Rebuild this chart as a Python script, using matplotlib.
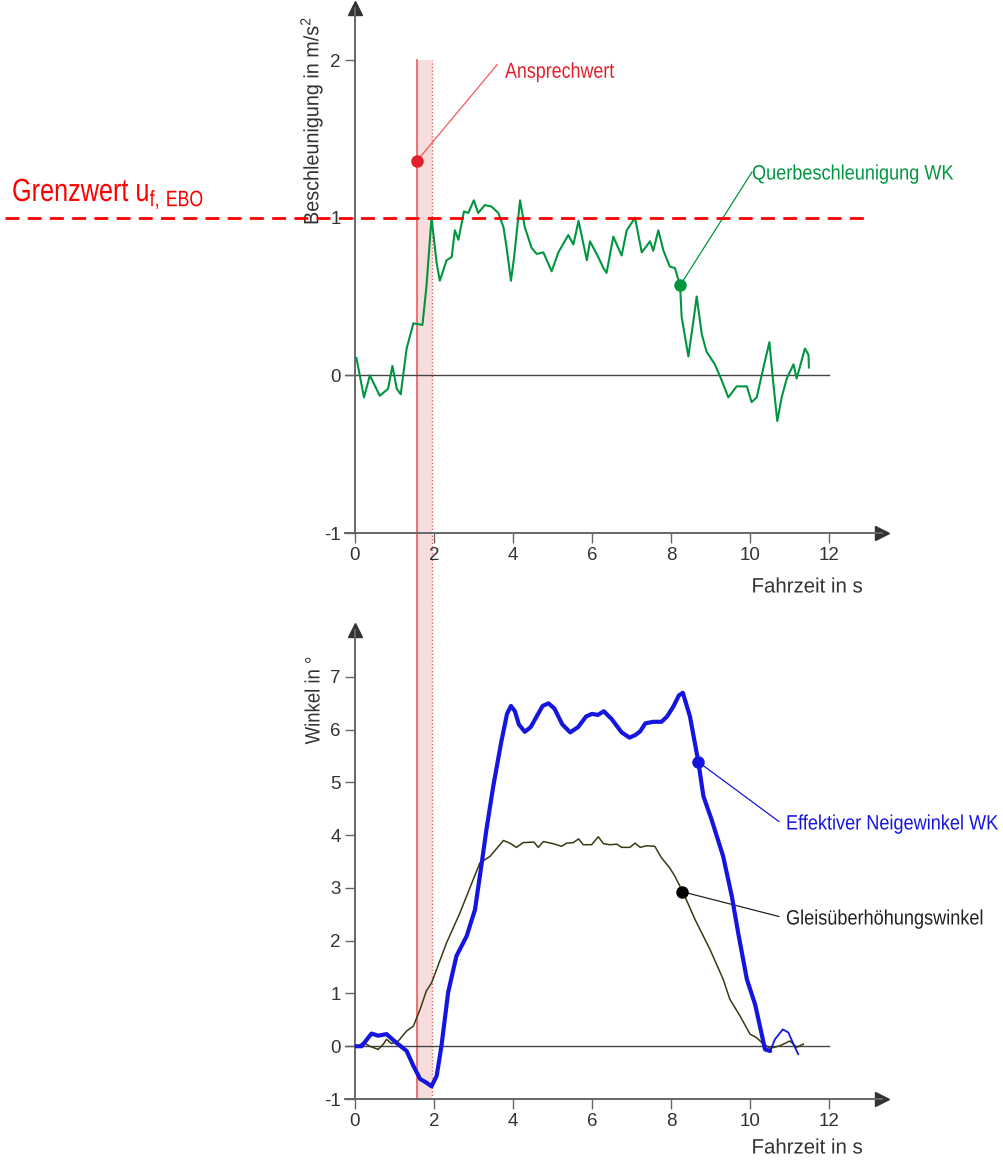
import matplotlib
matplotlib.use("Agg")
import matplotlib.pyplot as plt
import matplotlib.transforms as mtransforms
from matplotlib.patches import Rectangle, PathPatch
from matplotlib.lines import Line2D
from matplotlib.textpath import TextPath
from matplotlib.font_manager import FontProperties

plt.rcParams['font.family'] = ['Liberation Sans', 'DejaVu Sans']
plt.rcParams['mathtext.fontset'] = 'custom'
plt.rcParams['mathtext.rm'] = 'Liberation Sans'
plt.rcParams['axes.unicode_minus'] = False

# --- data ---
# lateral acceleration, m/s^2
acc_t = [0.04, 0.23, 0.38, 0.63, 0.84, 0.95, 1.06, 1.16, 1.31, 1.48, 1.71, 1.81,
         1.94, 2.07, 2.15, 2.32, 2.45, 2.53, 2.62, 2.76, 2.87, 3.01, 3.12, 3.29,
         3.46, 3.63, 3.76, 3.84, 3.95, 4.03, 4.18, 4.30, 4.47, 4.60, 4.77, 4.98,
         5.15, 5.40, 5.53, 5.66, 5.87, 5.95, 6.16, 6.29, 6.37, 6.54, 6.75, 6.88,
         7.09, 7.26, 7.47, 7.55, 7.68, 7.81, 7.97, 8.10, 8.23, 8.27, 8.44, 8.57,
         8.65, 8.78, 8.90, 9.11, 9.28, 9.45, 9.66, 9.92, 10.04, 10.17, 10.34, 10.49,
         10.59, 10.69, 10.80, 10.93, 11.10, 11.18, 11.39, 11.48, 11.49]
acc_a = [0.11, -0.14, 0.0, -0.13, -0.085, 0.06, -0.085, -0.12, 0.17, 0.33, 0.32, 0.56,
         1.0, 0.71, 0.60, 0.73, 0.75, 0.92, 0.86, 1.04, 1.03, 1.11, 1.03, 1.08,
         1.07, 1.03, 0.94, 0.81, 0.60, 0.75, 1.11, 0.94, 0.81, 0.77, 0.78, 0.66,
         0.78, 0.89, 0.83, 0.98, 0.73, 0.85, 0.75, 0.68, 0.65, 0.88, 0.76, 0.92,
         1.0, 0.78, 0.85, 0.79, 0.92, 0.79, 0.69, 0.68, 0.57, 0.37, 0.12, 0.35,
         0.50, 0.26, 0.15, 0.07, -0.03, -0.14, -0.07, -0.07, -0.17, -0.14, 0.05, 0.21,
         -0.05, -0.29, -0.14, -0.02, 0.07, -0.02, 0.17, 0.13, 0.05]

# effective tilt angle (thick part, then thin tail)
tilt_t = [0.04, 0.17, 0.42, 0.59, 0.80, 1.06, 1.31, 1.48, 1.65, 1.81, 1.94, 2.07,
          2.19, 2.36, 2.57, 2.83, 3.04, 3.21, 3.33, 3.50, 3.70, 3.85, 3.95, 4.05,
          4.15, 4.30, 4.45, 4.60, 4.75, 4.90, 5.05, 5.25, 5.45, 5.65, 5.85, 6.00,
          6.15, 6.30, 6.50, 6.75, 6.95, 7.10, 7.22, 7.35, 7.55, 7.76, 7.90, 8.06,
          8.20, 8.30, 8.48, 8.69, 8.82, 9.03, 9.32, 9.54, 9.70, 9.92, 10.13, 10.38,
          10.51]
tilt_w = [0.0, 0.0, 0.24, 0.20, 0.23, 0.06, -0.09, -0.37, -0.62, -0.69, -0.76, -0.56,
          0.0, 1.02, 1.71, 2.09, 2.59, 3.47, 4.11, 4.92, 5.75, 6.30, 6.45, 6.35,
          6.10, 5.96, 6.05, 6.25, 6.45, 6.50, 6.40, 6.10, 5.95, 6.05, 6.25, 6.30,
          6.28, 6.35, 6.20, 5.95, 5.85, 5.90, 5.97, 6.12, 6.15, 6.15, 6.25, 6.44,
          6.65, 6.70, 6.25, 5.40, 4.74, 4.29, 3.60, 2.84, 2.15, 1.27, 0.79, -0.06,
          -0.09]
tail_t = [10.51, 10.63, 10.83, 10.97, 11.10, 11.22]
tail_w = [-0.09, 0.13, 0.32, 0.26, 0.04, -0.15]

# track cant angle
cant_t = [0.08, 0.21, 0.38, 0.59, 0.72, 0.80, 0.93, 1.10, 1.31, 1.48, 1.65, 1.81,
          1.94, 2.32, 2.66, 3.16, 3.42, 3.76, 3.92, 4.09, 4.26, 4.53, 4.64, 4.77,
          5.02, 5.23, 5.36, 5.53, 5.66, 5.78, 5.99, 6.16, 6.29, 6.46, 6.63, 6.75,
          6.96, 7.09, 7.22, 7.38, 7.59, 7.76, 7.97, 8.10, 8.31, 8.61, 8.99, 9.32,
          9.49, 9.75, 10.0, 10.17, 10.34, 10.51, 10.76, 11.01, 11.18, 11.35]
cant_w = [0.0, 0.07, 0.0, -0.06, 0.04, 0.13, 0.05, 0.10, 0.29, 0.38, 0.70, 1.05,
          1.20, 1.96, 2.53, 3.47, 3.60, 3.90, 3.85, 3.77, 3.86, 3.87, 3.77, 3.88,
          3.84, 3.79, 3.85, 3.86, 3.93, 3.82, 3.82, 3.97, 3.84, 3.82, 3.83, 3.77,
          3.77, 3.85, 3.77, 3.80, 3.79, 3.57, 3.38, 3.22, 2.91, 2.40, 1.83, 1.27,
          0.89, 0.57, 0.23, 0.16, 0.04, -0.04, 0.01, 0.10, -0.02, 0.04]

band_start, band_end = 1.57, 1.95
grenzwert = 1.0
x_ticks = [0, 2, 4, 6, 8, 10, 12]
acc_ticks = [-1, 0, 1, 2]
ang_ticks = [-1, 0, 1, 2, 3, 4, 5, 6, 7]

RED = '#e3202a'
GREEN = '#00963f'
BLUE = '#1515e0'
OLIVE = '#3a3a12'
AXC = '#666666'
DPI = 100
FP = FontProperties(family='Liberation Sans')

fig = plt.figure(figsize=(10.04, 11.62), dpi=DPI)
left, width = 345 / 1004, (882 - 345) / 1004
ax1 = fig.add_axes([left, 1 - 533 / 1162, width, (533 - 8) / 1162])
ax2 = fig.add_axes([left, 1 - 1099 / 1162, width, (1099 - 630) / 1162])

# pixel coordinates measured from the top-left corner
px = mtransforms.Affine2D().scale(1, -1).translate(0, 1162)


def ntext(x, y, s, size, color, trans=px, ha='left', va='center', rot=0, sx=0.87):
    """condensed text drawn as a path (the original uses a narrow font)"""
    tp = TextPath((0, 0), s, size=size, prop=FP)
    ext = tp.get_extents()
    ox = {'left': 0, 'center': (ext.x0 + ext.x1) / 2, 'right': ext.x1}[ha]
    oy = {'baseline': 0, 'center': 0.36 * size}[va]
    tr = (mtransforms.Affine2D().translate(-ox, -oy).scale(sx * DPI / 72, DPI / 72)
          .rotate_deg(rot) + mtransforms.ScaledTranslation(x, y, trans))
    fig.add_artist(PathPatch(tp, transform=tr, facecolor=color, edgecolor='none', lw=0))


def style(ax, ylo, yhi, yticks):
    ax.set_xlim(-0.25, 13.34)
    ax.set_ylim(ylo, yhi)
    ax.patch.set_alpha(0)
    for s in ['top', 'right']:
        ax.spines[s].set_visible(False)
    ax.spines['left'].set_position(('data', 0))
    for s in ['left', 'bottom']:
        ax.spines[s].set_color(AXC)
        ax.spines[s].set_linewidth(1.4)
    ax.set_xticks(x_ticks)
    ax.set_yticks(yticks)
    ax.tick_params(direction='out', length=7, width=1, color=AXC,
                   labelsize=13.5, labelcolor='#333333', pad=3)
    ax.axhline(0, xmin=0, xmax=(12.25) / 13.59, color='#444444', lw=1, zorder=1)
    # arrow heads
    ax.plot([1], [0], marker='>', ms=10, color='#333333', transform=ax.transAxes,
            clip_on=False)
    ax.plot([0], [1], marker='^', ms=10, color='#333333',
            transform=ax.get_xaxis_transform(), clip_on=False)


style(ax1, -1, 2.33, acc_ticks)
style(ax2, -1, 7.89, ang_ticks)

# red band across both panels
to_fig = fig.transFigure.inverted()
y_top = to_fig.transform(ax1.transData.transform((0, 2)))[1]
y_bot = to_fig.transform(ax2.transData.transform((0, -1)))[1]
bt = mtransforms.blended_transform_factory(ax1.transData, fig.transFigure)
fig.add_artist(Rectangle((band_start, y_bot), band_end - band_start, y_top - y_bot,
                         transform=bt, facecolor='#f9dcdc', edgecolor='none', zorder=-2))
fig.add_artist(Line2D([band_start, band_start], [y_bot, y_top], transform=bt,
                      color='#f05a5a', lw=1.2, zorder=-1))
fig.add_artist(Line2D([band_end, band_end], [y_bot, y_top], transform=bt,
                      color='#f05a5a', lw=1, ls=(0, (1, 1.5)), zorder=-1))

# limit line
gt = mtransforms.blended_transform_factory(fig.transFigure, ax1.transData)
fig.add_artist(Line2D([0.005, 870 / 1004], [grenzwert, grenzwert], transform=gt,
                      color='#ff0000', lw=2, ls=(0, (5, 3))))
ntext(12, 201, r'Grenzwert u$_{\mathrm{f,\,EBO}}$', 23, '#ff0000', va='baseline', sx=0.79)

# top panel
ax1.plot(acc_t, acc_a, color=GREEN, lw=1.5, zorder=3)
ax1.plot([1.57, 3.6], [1.36, 1.97], color='#f05a5a', lw=0.9)
ax1.plot([1.57], [1.36], 'o', color=RED, ms=8)
ntext(505, 70, 'Ansprechwert', 15.5, RED, sx=0.83)
ax1.plot([8.23, 10.05], [0.57, 1.29], color=GREEN, lw=0.9)
ax1.plot([8.23], [0.57], 'o', color=GREEN, ms=8)
ntext(752, 172, 'Querbeschleunigung WK', 15, GREEN)

# bottom panel
ax2.plot(cant_t, cant_w, color=OLIVE, lw=1.1, zorder=3)
ax2.plot(tilt_t, tilt_w, color=BLUE, lw=3, zorder=4, solid_capstyle='round')
ax2.plot(tail_t, tail_w, color=BLUE, lw=1.3, zorder=4)
ax2.plot([8.69, 10.73], [5.39, 4.26], color=BLUE, lw=0.9)
ax2.plot([8.69], [5.39], 'o', color=BLUE, ms=8, zorder=5)
ntext(786, 822, 'Effektiver Neigewinkel WK', 15, BLUE)
ax2.plot([8.28, 10.73], [2.93, 2.46], color='#222222', lw=0.9)
ax2.plot([8.28], [2.93], 'o', color='black', ms=8, zorder=5)
ntext(786, 917, 'Gleisüberhöhungswinkel', 15, '#222222')

# axis labels
ntext(311, 121, 'Beschleunigung in m/s$^2$', 15, '#333333', ha='center', rot=90, sx=0.95)
ntext(312, 701, 'Winkel in °', 15, '#333333', ha='center', rot=90, sx=0.89)
ntext(862, 585, 'Fahrzeit in s', 15, '#333333', ha='right', sx=0.98)
ntext(862, 1146, 'Fahrzeit in s', 15, '#333333', ha='right', sx=0.98)

fig.savefig('out.png', dpi=DPI)
